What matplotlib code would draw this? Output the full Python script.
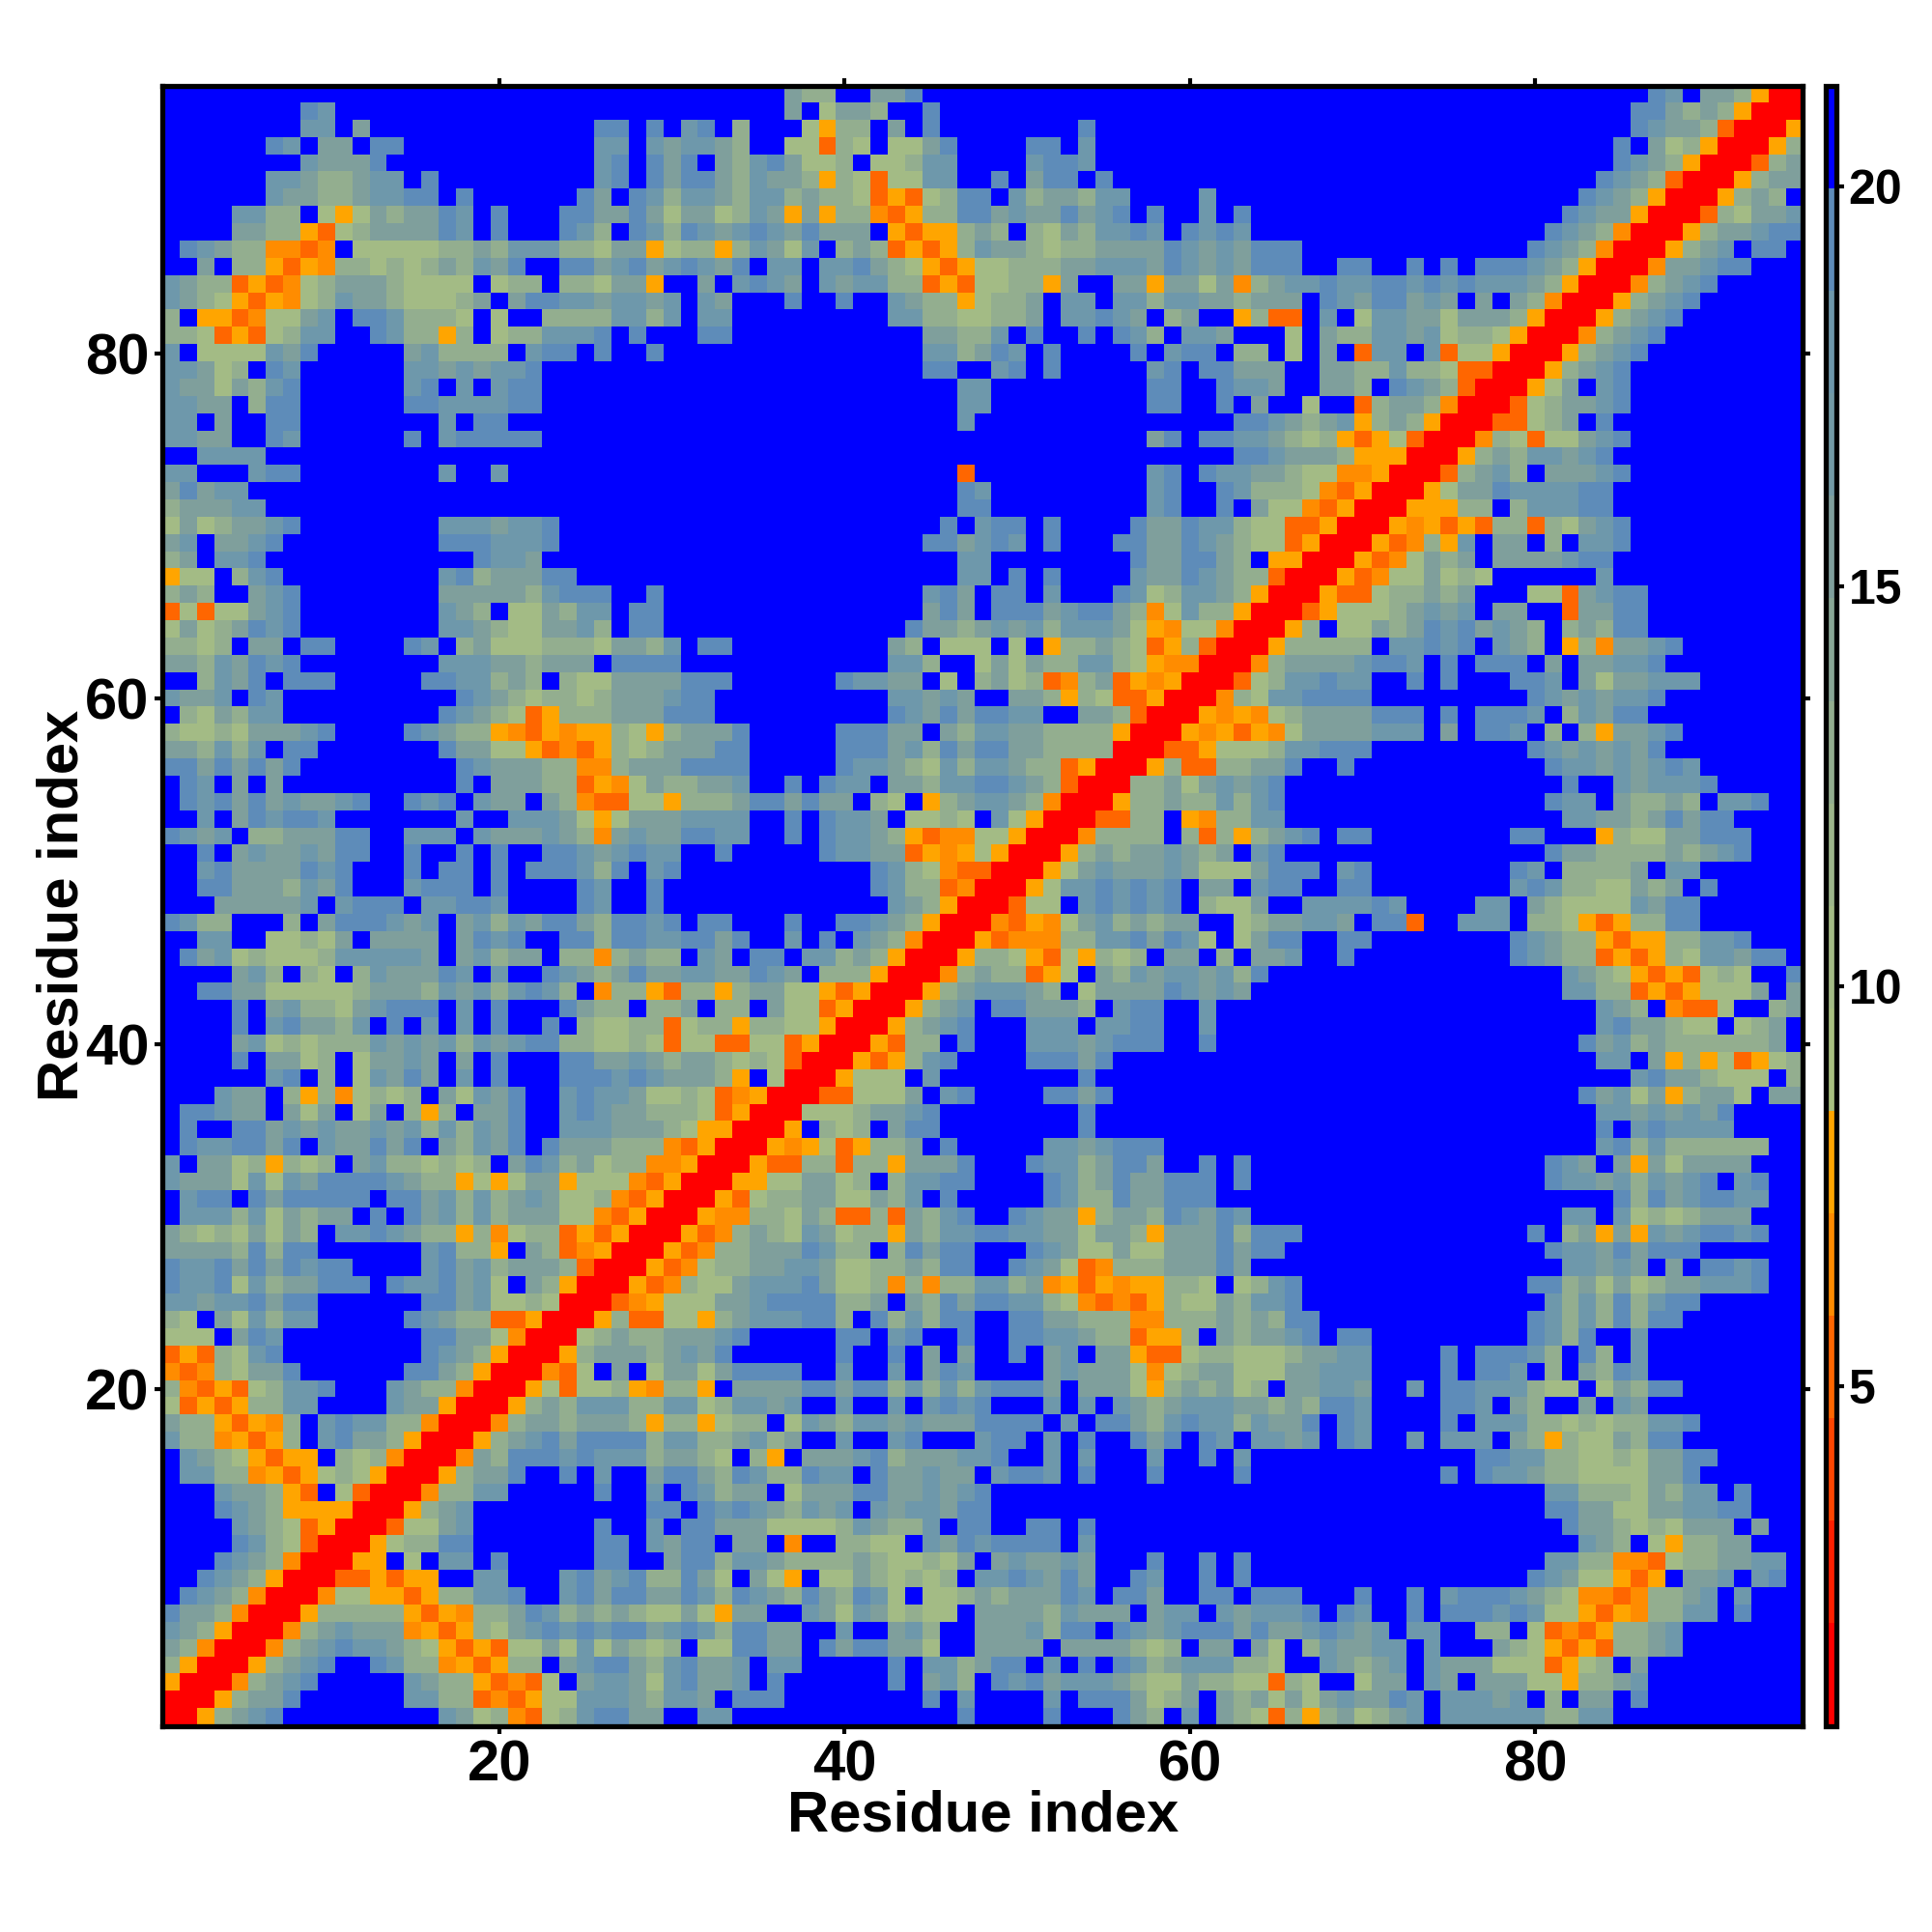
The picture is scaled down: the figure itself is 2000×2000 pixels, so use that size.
import re
import numpy as np
import matplotlib
matplotlib.use('Agg')
import matplotlib.pyplot as plt
from matplotlib.colors import ListedColormap, BoundaryNorm

# symmetric distance map, read off as the upper-left triangle, top row (y=95) first
# letters are distance classes, "12." means twelve cells above the cut-off
upper_left = [
    "33.", "8.ab23.", "8.bb.c13.aa.a.ba.", "6.ab.cc.aa11.bb.bcbbc",
    "8.bccca12.ba.aca.c", "6.bbcddcbb.a9.ba.acaac", "6.bccddcbbaa.a6.ac.abdbbc",
    "4.bbdd.eoecdccab.a3.aaccacecce", "4.ccddoqedccccab.a3.abd.abdabc",
    ".abcddppqp.eeeeeddcdbbbddeccoeddo", "2.c.ddoqopddededcdbca2.aacbacbabc",
    "bcddqoqpedcccdeeee.edd.ddecco2.c.", "bcdeoqopedbccdeeedc.caabbcbbcb.bc",
    "d.ooqpeecb.aabddde.e2.ddddbbdb.bb", "ddeqoqedbb2.abddod.eddbbba.a3.aa",
    "b.eeeebca5.cbdddd.baa.a2.a4.", "bbced.ab6.bbcbcbba11.", "bccecdba6.ba.b.baa11.",
    "bbcc.daa6.aabbbbaa11.", "bb.c2.aa8.b.aa13.", "bbcc2.ab6.a.baaaaa11.",
    "2.bbbb27.", "bb3.baa8.b2.b13.", "cacbb28.", "dcccbb27.", "ecedccba8.bbbcbba10.",
    "cb.ccba9.aaabbba10.", "dc.bba12.abbc11.", "oee.dba9.badcccaa9.",
    "dcd2.cba8.cccccdbaaa2.a4.", "qeqeecba8.bcd.eecdbb.aa4.", "ecedcaba8.bbcdeeccbd.aa4.",
    "dded.cc.aa4.ab.dceeedddeccdb.aa",
]
upper_mid = [
    "3.cdd2.cca22.", "3.c.eccd2.a21.", "d3.eodd.c.a8.a12.", "d2.eeqde.eeca4.aa.b12.",
    "dbaceed.eedbb4.baab12.", "dbccdodeqeebb2.a.caa.a11.", "dbbdcddeqoqedaa.bdccdbb4.b5.",
    "dbcocoddpqoddaacbccacba.a2.b.a3.", "babcaccc.oqoodcd.decdbbab.abab3.",
    "dbceb.dcdqoqodbccdeddccccabcbcaaa", "a.bb.bbacdeoqoeedddccbbbcabcbcaaa",
    "babc.bcbbddqoqeeddoc2.ccoccecpdcb", "3.a2.a2.bcddoeddc.bb.bbdbbccdccc",
    "9.bbddeeddc.bbabc.dc2.odqq", "11.ccddb.a2.a.abd.bbc3.e", "11.bbdcab.a4.a.baa.dd.e",
    "11.aa2.ba.a5.ba.aaccc.", "13.bb9.aa2.abbc.", "13.bb9.aa2.a.c2.", "13.b15.aabc",
    "24.ca.aabbcd", "29.aabc", "13.q10.ba.abbccd", "13.ab9.ba2.abddd", "13.aa9.ba2.a.cee",
    "12.a.baa.a4.accabbdeeq", "11.aacbab.a3.aaccabcdeeq", "13.bb8.accaacd.oo",
    "13.bb.a.a4.bccabcddqr", "11.bac.aa.b3.abedbbcdorr", "11.cac.aaacbaacdpebddorrr",
    "10.accdcbcbdbbbceopeeprrro", "9.cd.eee.e.oddcdeqodqrrroe",
]
upper_right = [
    "20.ab.ccdorr", "19.aacdcdorrr", "19.abccdqrrro", "18.a.cedorrrod", "18.abcdorrrqdc",
    "17.abcdqrrrodcc", "16.abcdorrrodcc.", "15.abccorrrqddbbb", "14.abcdprrrodcbbaa",
    "13.abcdprrrodcb.aa.", "2.aa2.a.a.aaabcdorrrpddbaa3.", "babbaabababbbcdorrrpdcba5.",
    ".abcaacbc.c.cdprrrodcba6.", ".b.ebbccecccdorrrodcba7.", ".cddbbcbeddeorrrpdcba8.",
    ".c.qbb.bqeeorrroecba9.", ".ccddbddeqqrrrodcba10.", ".ccd.abcdqrrrodc.aa10.",
    "e2.qdccdprrrqedcbba10.", "dcbodcdorrrqqedc.a.10.", "edoqoeqrrrpeeqeecba10.",
    "ccdooorrrodcdcbbba.10.", "eepporrrqedce.cccba10.", "epqorrroeccbccbbaa.10.",
    "pqorrrooode.eccbaa.10.", "qorrropoqoqeeqeebba10.", "orrroqpdoc.b2.c.bba10.",
    "rrroqpddcc.cccccaa.10.", "rroqpddddde6.b.10.", "roqqdddcdc3.eeqcbba9.",
    "qoeeddcbcb.cc2.qccba9.", "e.eecccbcababc.eccba9.", "ccdc.baaba.bbc.odpccba7.",
]
mid_left = [
    "ccdbcaba8.bbbccdccc.aaaa3.", "2.dbca.aaa5.aabbdcd.deeccccaaa", "bccb.ab10.abcdeddedcccbaa.",
    ".decdbb9.abcdeqodddcccaaa.", "deedecccba4.abcddopqopoodeodccc", "ccdbdb.aa7.acceeoqpqodedccca",
    "aacacaca9.abcccddppdcccaaa", ".ab.c.c10.a.cccddqopecddcc", ".abacacbccba2.aba.bcc.cdpqqeeoddd",
    "2.b.cabaab7.b2.bbbceoecccbbb", "abcb.ddcccaa2.bbb.bcccbcdpcbccaab", "2.a.cbccbcaa2.a2.a.a2.aabcbabb2.a",
    "2.baccccaba3.a.aa.a.aaabda.ba3.", "2.aacccdbca3.baaa.a4.ab2.a4.", "3.cccccb.baaa.bbaab4.ab2.a4.",
    "abdd3.d.caaabcb.cbdbcaacdaaba.aa", "2.bb2.eedec.cccc.caba2.aadaabbaac", ".acbedeeedbbbbbc.cbdcc.ddpdcdd.bc",
    "4.cbd.de.dbcccab.b2.abcdcaccbbc", "2.aacceeeeedcccdbcbdbabd.pddoqddo", "4.a.cbddecbaaa.b.a3.acdd.ddc.d",
    "4.a.baccdb.a.b.b.a2.a.deeddqedd", "4.cbededddbcbcbdbcbaaddeedeqeeq", "4.a.cced.eccbc.c.a3.aaccbcdccd",
    "6.ba.d.ebcac.b.a3.aaababcccd", "3.bcc.dodpeded.cebca2.babbceedeq", ".aabcc.cec.ec.dod.cca2.babccdddeq",
    ".a2.aacbcbccbcbdbdbca2.bbbcccdeoo", ".abbaaca.bccaca.cdbca.acccdddpqor", "b.ccedoded.cbddeded.cabdceddpporr",
    "bcccebebcaaaabcddoeoeccoeeepqorrr", ".baa.acaaaaa.aacbdbdcbceedpqorrro", ".bbbdbecdcc.a.acbdbdccceepqorrrop",
]
mid_mid = [
    "9.bbd2.ececddbbdeopprr", "6.abbcc.e.dcedqpdcqoporr", "9.bbcbc2.ccdodeqqorr", "9.abcacaabb2.ccdqrr",
    "a5.aaacc.cdbbccddddorr", "a5.aaacbdacaaccddddrr", "a5.abbcdebdbbcddqorr", "b2.a.abb.ccdbbaabcdqrr",
    "caacacc.de.odcbbcdprr", "b2.a.abbc.eede.beorr", "b2.a.abbcdoqppeeorr", "5.abbccqopoeorr",
    "8.abdepqqrr", "8.abddqprr", "9.bcdorr", "3.a2.aabcdorr", "a2.b.a.bcdprr", ".aa.bbdcdorr",
    "cabc.dddorr", "dcceeoqorr", "d.ceeqorr", "oddeeorr", "qeeqorr", "edeqrr", "o.err", "porr", "orr", "rr", "r",
]
lower_left = [
    "cdedececd.bbabcddodpeddqoqorr", "ccccdadaa6.baddo.cdqporr", "abbacacabaa4.bacbdcccdqrr",
    "abbaebdccaaa.abbacbe.cdorr", "bbcbbacaa6.aacbeederr", "de.cebdbb5.abcddqqorr",
    "eee.cab8.aaccep" "rr", "qoqdeba8.abcdorr", "pqpdecca6.aacdorr", "dpqoqedbba3.bcddprr",
    "eqoqoddbb4.bccorr", "cddoqopd.babbddprr", "bddpoqod.baccdorr", ".bcdeoqoo.dedprr",
    ".bbddpoqoedeorr", "3.bccdoq.eqrr", "3.abcdoooorr", "4.bcdeqorr", "4.abdeqrr", "3.abcdprr",
    "2.abcdorr", ".abcdprr", "accdprr", "bcdorr", "cdprr", "dorr", "orr", "rr", "r",
]

# distance given to each class
level_values = {'r': 1.5, 'q': 5.2, 'p': 6.5, 'o': 7.8, 'e': 10.3, 'd': 12.9,
                'c': 15.4, 'b': 18.0, 'a': 19.3, '.': 20.6}
band_edges = np.linspace(0.75, 21.26, 17)
band_colors = ['#ff0000', '#ff2000', '#ff4500', '#ff6600', '#ff8c00', '#ffa500',
               '#a8bf80', '#a3bb85', '#9cb58a', '#93ae8f', '#88a695', '#7f9f9c',
               '#739aa5', '#6e98ab', '#5e8cb9', '#0000ff']
n = 95


def expand(s):
    return re.sub(r'(\d+)\.', lambda m: '.' * int(m.group(1)), s)


rows = [a + b + c for a, b, c in zip(upper_left, upper_mid, upper_right)]
rows += [a + b for a, b in zip(mid_left, mid_mid)]
rows += mid_left[len(mid_mid):]
rows += lower_left

dist = np.full((n, n), level_values['.'])
for j, s in enumerate(rows):
    y = n - j
    for x, ch in enumerate(expand(s)[:y]):
        dist[y - 1, x] = level_values[ch]
        dist[x, y - 1] = level_values[ch]

cmap = ListedColormap(band_colors)
norm = BoundaryNorm(band_edges, cmap.N)

plt.rcParams['font.family'] = ['Liberation Sans', 'DejaVu Sans']
plt.rcParams['font.weight'] = 'bold'

fig = plt.figure(figsize=(20, 20), dpi=100)
ax = fig.add_axes([168.4 / 2000, 1 - 1786.5 / 2000, (1866.5 - 168.4) / 2000, (1786.5 - 89) / 2000])
im = ax.imshow(dist, origin='lower', cmap=cmap, norm=norm, interpolation='nearest',
               extent=(0.5, 95.5, 0.5, 95.5), aspect='auto')
ax.set_xticks([20, 40, 60, 80])
ax.set_yticks([20, 40, 60, 80])
ax.tick_params(top=True, right=True, length=6, width=3, labelsize=43, pad=4)
for side in ax.spines.values():
    side.set_linewidth(3.8)
ax.set_xlabel('Residue index', fontsize=43, fontweight='bold', labelpad=-2)
ax.set_ylabel('Residue index', fontsize=43, fontweight='bold', labelpad=-3)

cax = fig.add_axes([1889.7 / 2000, 1 - 1786.5 / 2000, (1901 - 1889.7) / 2000, (1786.5 - 89) / 2000])
cb = fig.colorbar(im, cax=cax, ticks=[5, 10, 15, 20], spacing='proportional')
cb.outline.set_linewidth(3.8)
cb.dividers.set_visible(False)
cax.minorticks_off()
cax.tick_params(length=6, width=3, labelsize=36, pad=3)

fig.savefig('out.png', dpi=100)
